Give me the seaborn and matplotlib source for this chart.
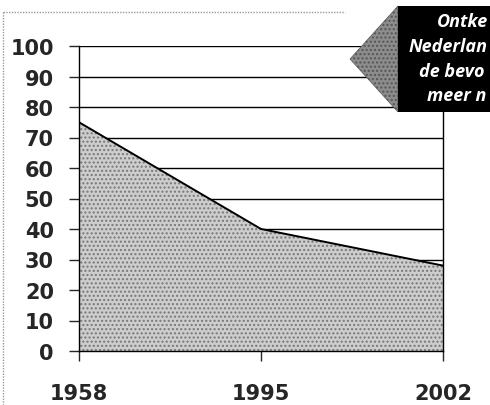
import matplotlib
matplotlib.use("Agg")
import matplotlib.pyplot as plt
import seaborn as sns
import pandas as pd
from matplotlib.patches import Polygon, Rectangle
from matplotlib.lines import Line2D

# data
years = ["1958", "1995", "2002"]
values = [75, 40, 28]
yticks = [0, 10, 20, 30, 40, 50, 60, 70, 80, 90, 100]
callout_lines = ["Ontke", "Nederlan", "de bevo", "meer n"]

df = pd.DataFrame({"jaar": years, "waarde": values})
df["pos"] = range(len(years))

sns.set_style("white")
plt.rcParams['font.family'] = ['DejaVu Sans']

fig = plt.figure(figsize=(4.9, 4.06), dpi=100)
ax = fig.add_axes([79/490, 54/406, (443-79)/490, (352-47)/406])

# area under the line, stippled grey
ax.fill_between(df["pos"], df["waarde"], 0, facecolor="#cdcdcd",
                edgecolor="#777777", hatch="....", linewidth=0, zorder=2)
sns.lineplot(data=df, x="pos", y="waarde", color="black", linewidth=1.4,
             ax=ax, zorder=3)

ax.set_xlim(0, 2)
ax.set_ylim(0, 100)
ax.set_yticks(yticks)
ax.set_yticklabels([str(t) for t in yticks])
ax.set_xticks(df["pos"])
ax.set_xticklabels(years)
ax.set_xlabel("")
ax.set_ylabel("")

for t in yticks:
    ax.axhline(t, color="black", linewidth=1.0, zorder=1)

for s in ["left", "right", "bottom"]:
    ax.spines[s].set_color("black")
    ax.spines[s].set_linewidth(1.0)
    ax.spines[s].set_zorder(4)
ax.spines["top"].set_visible(False)

ax.tick_params(axis="y", direction="out", length=7, width=1.0, pad=11,
               labelsize=15, left=True)
ax.tick_params(axis="x", direction="out", length=7, width=1.0, pad=16,
               labelsize=15, bottom=True)
for lab in ax.get_xticklabels() + ax.get_yticklabels():
    lab.set_fontweight("bold")

# scanned page frame
fig.add_artist(Line2D([3/490, 3/490], [0, 1 - 13/406], transform=fig.transFigure,
                      color="#9a9a9a", linewidth=1.0, linestyle=(0, (1, 1))))
fig.add_artist(Line2D([3/490, 345/490], [1 - 13/406, 1 - 13/406], transform=fig.transFigure,
                      color="#9a9a9a", linewidth=1.0, linestyle=(0, (1, 1))))

# callout box with arrow, running off the right edge
tri = Polygon([[350/490, 1 - 60/406], [398/490, 1 - 7/406], [398/490, 1 - 113/406]],
              closed=True, transform=fig.transFigure, facecolor="#8c8c8c",
              edgecolor="#555555", hatch="....", linewidth=0.5, zorder=5)
fig.add_artist(tri)
fig.add_artist(Rectangle((398/490, 1 - 113/406), 100/490, 106/406,
                         transform=fig.transFigure, facecolor="black",
                         edgecolor="none", zorder=5))
starts = [437, 409, 419, 427]
rows = [22, 47, 72, 96]
for txt, x0, y0 in zip(callout_lines, starts, rows):
    fig.text(x0/490, 1 - y0/406, txt, color="white", fontsize=13,
             fontweight="bold", fontstyle="italic", ha="left", va="center",
             family=["Open Sans", "DejaVu Sans"], zorder=6)

fig.savefig("out.png", dpi=100)
